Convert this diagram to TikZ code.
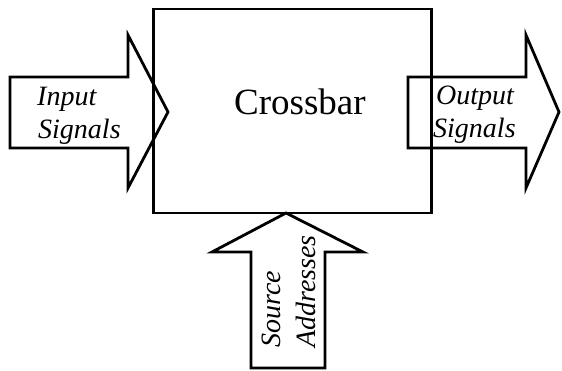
\documentclass[tikz,border=0pt]{standalone}
\usepackage{fontspec}
\setmainfont{Liberation Serif}
\begin{document}
\begin{tikzpicture}[x=1pt,y=-1pt,
  outline/.style={draw=black,line width=2.8pt,line join=miter},
  lbl/.style={font=\itshape\fontsize{28}{33}\selectfont,inner sep=0pt,anchor=base west},
  title/.style={font=\fontsize{37}{44}\selectfont,inner sep=0pt,anchor=base west}]
\useasboundingbox (0,0) rectangle (562,371);
% input arrow
\draw[outline] (10,77) -- (128,77) -- (128,35) -- (168,112) -- (128,188) -- (128,148) -- (10,148) -- cycle;
% output arrow
\draw[outline] (408,77) -- (526,77) -- (526,35) -- (559,112) -- (526,188) -- (526,148) -- (408,148) -- cycle;
% source arrow
\draw[outline] (251,368) -- (251,252) -- (212,252) -- (286,213) -- (363,252) -- (325,252) -- (325,368) -- cycle;
% crossbar box
\node[draw=black,line width=2.8pt,minimum width=278pt,minimum height=204pt,inner sep=0pt] (box) at (292.5,111) {};
\node[title] (cb) at (234,115) {Crossbar};
\node[lbl] (in1) at (37,106) {Input};
\node[lbl] (in2) at (38,139) {Signals};
\node[lbl] (out1) at (436,105) {Output};
\node[lbl] (out2) at (433,138) {Signals};
\node[lbl,rotate=90] (src1) at (280,348) {Source};
\node[lbl,rotate=90] (src2) at (315,348) {Addresses};
\end{tikzpicture}
\end{document}
